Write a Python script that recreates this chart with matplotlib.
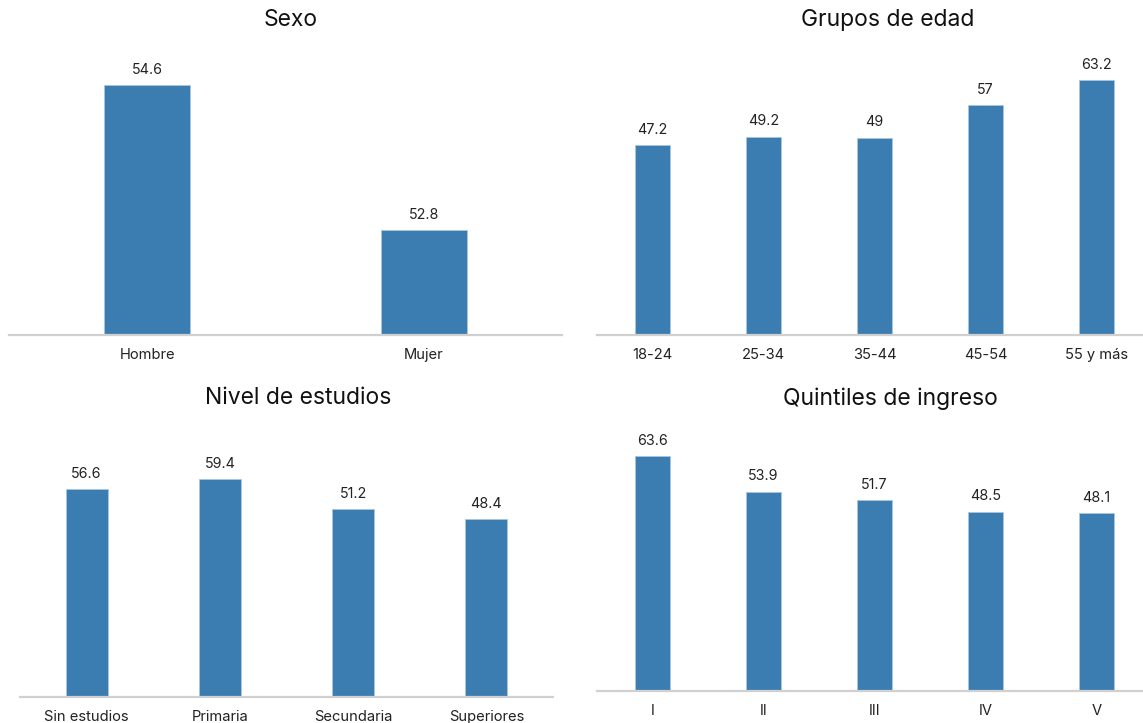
import numpy as np
import matplotlib
matplotlib.use("Agg")
import matplotlib.pyplot as plt

plt.rcParams['font.family'] = ['Inter', 'DejaVu Sans']

# datos
sexo_cat = ["Hombre", "Mujer"]
sexo_val = [54.6, 52.8]

edad_cat = ["18-24", "25-34", "35-44", "45-54", "55 y más"]
edad_val = [47.2, 49.2, 49, 57, 63.2]

estudios_cat = ["Sin estudios", "Primaria", "Secundaria", "Superiores"]
estudios_val = [56.6, 59.4, 51.2, 48.4]

quintil_cat = ["I", "II", "III", "IV", "V"]
quintil_val = [63.6, 53.9, 51.7, 48.5, 48.1]

AZUL = "#3c7db1"
GRIS = "#d0d0d0"
TEXTO = "#222222"

W, H = 1143, 723
fig = plt.figure(figsize=(W / 100, H / 100), dpi=100)


def caja(x0, x1, y0, y1):
    # pixeles -> fraccion de figura
    return [x0 / W, 1 - y1 / H, (x1 - x0) / W, (y1 - y0) / H]


def barras(rect, cats, vals, ylim, ancho):
    ax = fig.add_axes(rect)
    x = np.arange(len(cats))
    ax.bar(x, vals, width=ancho, color=AZUL, edgecolor="#a9c6e0", linewidth=0.6)
    for xi, v in zip(x, vals):
        ax.annotate(f"{v:g}", (xi, v), xytext=(0, 6), textcoords="offset points",
                    ha="center", va="bottom", fontsize=10.3, color=TEXTO)
    ax.set_xlim(-0.5, len(cats) - 0.5)
    ax.set_ylim(*ylim)
    ax.set_xticks(x)
    ax.set_xticklabels(cats, fontsize=10.6, color=TEXTO, va="baseline")
    ax.tick_params(axis="x", length=0, pad=17.5)
    ax.set_yticks([])
    for s in ["top", "left", "right"]:
        ax.spines[s].set_visible(False)
    ax.spines["bottom"].set_color(GRIS)
    ax.spines["bottom"].set_linewidth(1.6)
    return ax


barras(caja(9, 562, 45, 335), sexo_cat, sexo_val, (51.5, 55.1), 0.31)
barras(caja(597, 1152, 45, 335), edad_cat, edad_val, (0, 72), 0.315)
barras(caja(20, 553, 420, 697), estudios_cat, estudios_val, (0, 75.5), 0.316)
barras(caja(597, 1152, 420, 691), quintil_cat, quintil_val, (0, 73.3), 0.315)

titulos = [("Sexo", 291, 20), ("Grupos de edad", 888, 20),
           ("Nivel de estudios", 298, 398), ("Quintiles de ingreso", 890, 399)]
for t, px, py in titulos:
    fig.text(px / W, 1 - py / H, t, ha="center", va="center", fontsize=16.5, color="#111111")

fig.savefig("out.png", dpi=100, facecolor="white")
